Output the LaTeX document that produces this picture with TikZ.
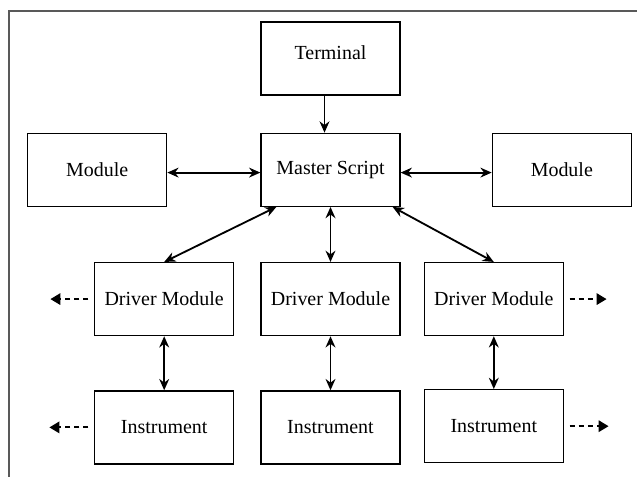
\documentclass[tikz,border=0pt]{standalone}
\usepackage{fontspec}
\setmainfont{Liberation Serif}
\usetikzlibrary{positioning, arrows.meta}

\begin{document}
\begin{tikzpicture}[x=0.025cm, y=-0.025cm,
    mybox/.style={draw, line width=0.9pt, minimum width=3.475cm, minimum height=1.825cm, inner sep=0pt, font=\fontsize{14.2}{17}\selectfont},
    link/.style={line width=1.3pt, {Stealth[length=8pt,width=7pt]}-{Stealth[length=8pt,width=7pt]}},
    dasharr/.style={line width=1.4pt, dash pattern=on 4pt off 2.5pt, -{Triangle[length=7pt,width=8pt]}}]
        \useasboundingbox (0,0) rectangle (637,477);
        \draw[line width=1.4pt, black!65] (9,477) -- (9,11) -- (637,11);

        \node[mybox, text depth=0.3cm] (term) at (330.5,58.5) {Terminal};
        \node[below=0.925cm of term, mybox] (master) {Master Script};
        \node[left=2.325cm of master, mybox] (modl) {Module};
        \node[right=2.275cm of master, mybox] (modr) {Module};

        \node[below=1.375cm of master, mybox] (drvm) {Driver Module};
        \node[left=0.65cm of drvm, mybox] (drvl) {Driver Module};
        \node[right=0.575cm of drvm, mybox] (drvr) {Driver Module};

        \node[below=1.35cm of drvl, mybox] (instl) {Instrument};
        \node[below=1.35cm of drvm, mybox] (instm) {Instrument};
        \node[below=1.32cm of drvr, mybox] (instr) {Instrument};

        \draw[line width=1.3pt, -{Stealth[length=8pt,width=7pt]}] ([xshift=-0.15cm]term.south) -- ([xshift=-0.15cm]master.north);
        \draw[link] ([yshift=-0.07cm]modl.east) -- ([yshift=-0.07cm]master.west);
        \draw[link] ([yshift=-0.07cm]master.east) -- ([yshift=-0.07cm]modr.west);
        \draw[link] ([xshift=0.4cm]master.south west) -- (drvl.north);
        \draw[link] (master.south) -- (drvm.north);
        \draw[link] ([xshift=-0.2cm]master.south east) -- (drvr.north);
        \foreach \a/\b in {drvl/instl, drvm/instm, drvr/instr}
            \draw[link] (\a.south) -- (\b.north);

        \draw[dasharr] ([xshift=-4pt]drvl.west) -- ++(-38,0);
        \draw[dasharr] ([xshift=-4pt]instl.west) -- ++(-39,0);
        \draw[dasharr] ([xshift=4pt]drvr.east) -- ++(37,0);
        \draw[dasharr] ([xshift=4pt]instr.east) -- ++(39,0);
    \end{tikzpicture}
\end{document}
